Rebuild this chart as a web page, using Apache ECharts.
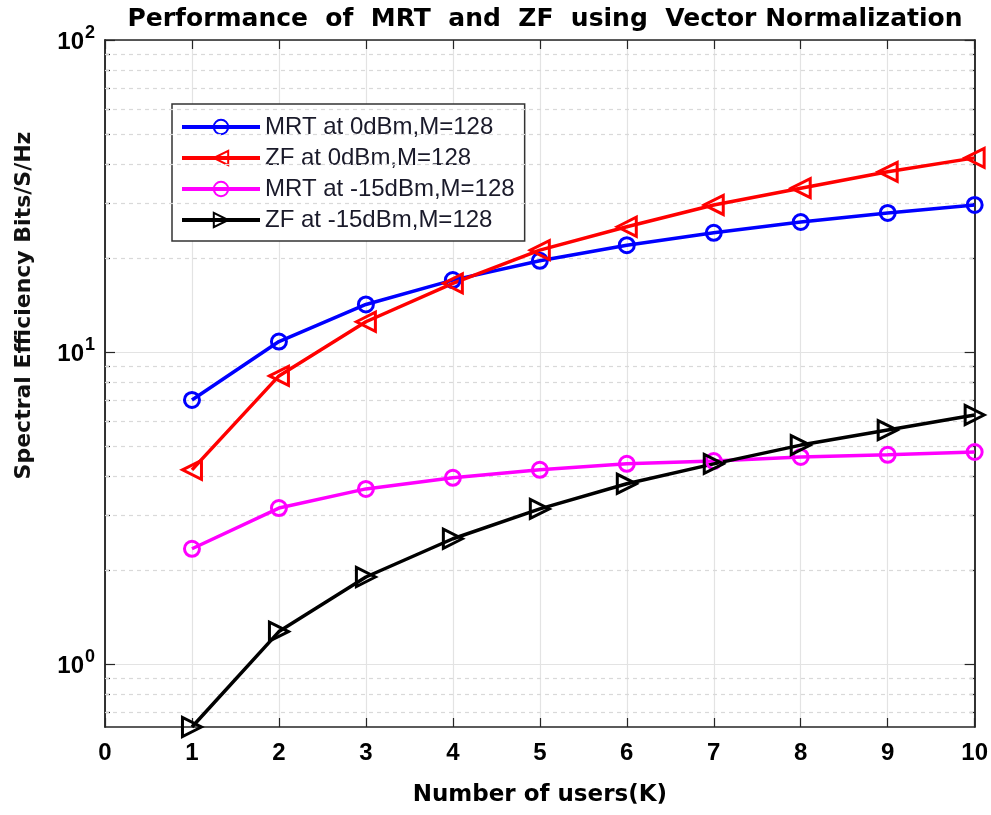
<!DOCTYPE html>
<html><head><meta charset="utf-8">
<script src="https://cdn.jsdelivr.net/npm/echarts@6/dist/echarts.min.js"></script>
<style>html,body{margin:0;padding:0;background:#fff}#c{width:991px;height:815px}</style>
</head><body><div id="c"></div>
<script>
var users = [1,2,3,4,5,6,7,8,9,10];
var mrt0 = [7.02,10.8,14.2,17.0,19.6,22.0,24.1,26.1,27.9,29.6];
var zf0 = [4.19,8.38,12.5,16.6,21.2,25.2,29.6,33.5,37.8,41.9];
var mrt15 = [2.34,3.16,3.64,3.95,4.19,4.38,4.47,4.61,4.68,4.78];
var zf15 = [0.628,1.27,1.90,2.52,3.14,3.78,4.38,5.03,5.62,6.28];
var xTicks = [0,1,2,3,4,5,6,7,8,9,10];
var yMajor = [1,10,100];
var yMinor = [0.7,0.8,0.9,2,3,4,5,6,7,8,9,20,30,40,50,60,70,80,90];
var names = ['MRT at 0dBm,M=128','ZF at 0dBm,M=128','MRT at -15dBm,M=128','ZF at -15dBm,M=128'];
var yMin = 0.628, yMax = 100;

function pairs(v){ return users.map(function(u,i){return [u, v[i]];}); }
var axisCol = '#262626';
var fontFam = '"Liberation Sans", Arial, sans-serif';
var boldFam = '"DejaVu Sans", sans-serif';

function yAxisDef(pos, ticks, len, showLabels, showSplit){
  return {
    type:'log', logBase:10, min:yMin, max:yMax, position:pos,
    axisLine:{show:true, onZero:false, lineStyle:{color:axisCol, width:1.5}},
    axisTick:{show:true, inside:true, length:len, customValues:ticks, lineStyle:{color:axisCol, width:1.2}},
    axisLabel:{show:showLabels, customValues:yMajor, margin:10, fontFamily:fontFam,
      formatter:function(v){ var e=Math.round(Math.log10(v)); return '{b|10}{s|'+e+'}'; },
      rich:{ b:{fontSize:24, fontWeight:'bold', color:'#000', fontFamily:fontFam, padding:[4,0,0,0]},
             s:{fontSize:18, fontWeight:'bold', color:'#000', fontFamily:fontFam, verticalAlign:'bottom', padding:[0,0,13,1]} }
    },
    splitLine:{show:showSplit, lineStyle:{color:'#e3e3e3', width:1.2}},
    name: pos==='left' && showLabels ? 'Spectral Efficiency Bits/S/Hz' : '',
    nameLocation:'middle', nameGap:70,
    nameTextStyle:{fontSize:22, fontWeight:'bold', color:'#111', fontFamily:boldFam, padding:[0,0,0,156]}
  };
}
function xAxisDef(pos, labels){
  return {
    type:'value', min:0, max:10, interval:1, position:pos,
    axisLine:{show:true, onZero:false, lineStyle:{color:axisCol, width:1.5}},
    axisTick:{show:true, inside:true, length:9, lineStyle:{color:axisCol, width:1.2}},
    axisLabel:{show:labels, margin:14, fontSize:24, fontWeight:'bold', color:'#000', fontFamily:fontFam},
    splitLine:{show:labels, lineStyle:{color:'#e3e3e3', width:1.2}},
    name: labels ? 'Number of users(K)' : '', nameLocation:'middle', nameGap:57,
    nameTextStyle:{fontSize:23, fontWeight:'bold', color:'#000', fontFamily:boldFam}
  };
}
function ser(i, data, color, symbol, rot, size){
  return {
    name:names[i], type:'line', data:pairs(data), xAxisIndex:0, yAxisIndex:0,
    symbol:symbol, symbolSize:size, symbolRotate:rot, showAllSymbol:true,
    lineStyle:{color:color, width:3.5},
    itemStyle:{color:'rgba(255,255,255,0)', borderColor:color, borderWidth:3},
    z:5
  };
}
var series = [
  ser(0, mrt0, '#0000ff', 'circle', 0, 15),
  ser(1, zf0, '#ff0000', 'triangle', 90, 19),
  ser(2, mrt15, '#ff00ff', 'circle', 0, 15),
  ser(3, zf15, '#000000', 'triangle', -90, 19)
];
series[0].markLine = {
  silent:true, symbol:['none','none'], label:{show:false}, animation:false,
  lineStyle:{color:'#d9d9d9', width:1.2, type:[4,4]},
  data: yMinor.map(function(v){return {yAxis:v};})
};

var chart = echarts.init(document.getElementById('c'));
chart.setOption({
  animation:false,
  backgroundColor:'#fff',
  title:{text:'Performance  of  MRT  and  ZF  using  Vector Normalization', left:540, textAlign:'center', top:2,
    textStyle:{fontSize:25, fontWeight:'bold', color:'#000', fontFamily:boldFam}},
  grid:{left:105, right:16, top:40, bottom:88, containLabel:false},
  xAxis:[xAxisDef('bottom', true), xAxisDef('top', false)],
  yAxis:[yAxisDef('left', yMajor, 10, true, true), yAxisDef('left', yMinor, 5, false, false),
         yAxisDef('right', yMajor, 10, false, false), yAxisDef('right', yMinor, 5, false, false)],
  legend:{orient:'vertical', left:172, top:104, itemWidth:78, itemHeight:18, itemGap:7,
    backgroundColor:'#fff', borderColor:'#333', borderWidth:1.5, borderRadius:0,
    padding:[11,10,9,8], data:names,
    lineStyle:{width:4},
    textStyle:{fontSize:24, color:'#1a1a2a', fontFamily:fontFam, lineHeight:22}},
  series:series
});
</script></body></html>
